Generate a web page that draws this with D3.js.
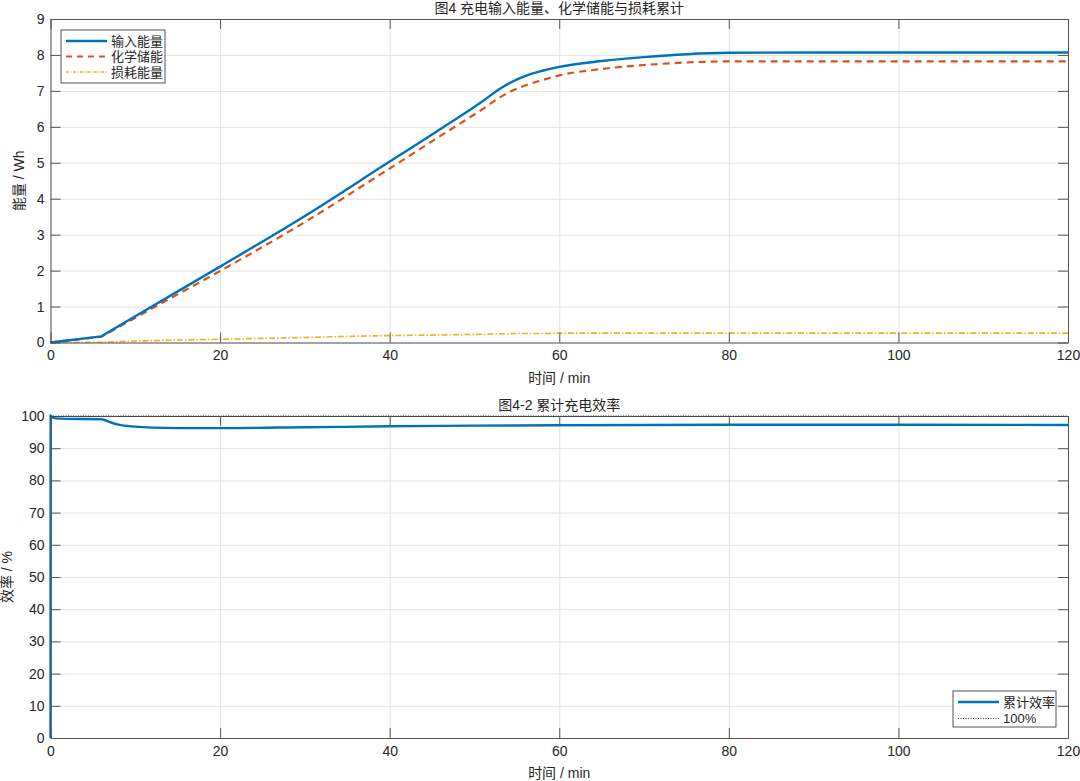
<!DOCTYPE html>
<html>
<head>
<meta charset="utf-8">
<script src="https://cdn.jsdelivr.net/npm/d3@7"></script>
<style>
  body { margin: 0; background: #fff; }
  svg text { font-family: "Liberation Sans", "Noto Sans CJK SC", sans-serif; fill: #262626; }
</style>
</head>
<body>
<svg id="vis" width="1080" height="781"></svg>
<script>
// energy panel (minutes / Wh)
const tEnergy = [0, 6, 10, 20, 30, 39, 46, 51, 53, 55.5, 58, 60, 65, 70, 75, 80, 90, 100, 110, 120];
const inputEnergy = [0, 0.17, 0.73, 2.11, 3.52, 4.88, 5.94, 6.72, 7.06, 7.37, 7.56, 7.67, 7.83, 7.94, 8.02, 8.06, 8.07, 8.07, 8.07, 8.07];
const chemEnergy = [0, 0.16, 0.69, 1.99, 3.35, 4.69, 5.75, 6.50, 6.82, 7.11, 7.30, 7.43, 7.61, 7.72, 7.79, 7.82, 7.82, 7.82, 7.82, 7.82];
const lossEnergy = [0, 0.01, 0.04, 0.09, 0.14, 0.19, 0.21, 0.23, 0.24, 0.25, 0.25, 0.26, 0.26, 0.26, 0.26, 0.26, 0.26, 0.26, 0.26, 0.26];

// efficiency panel (minutes / %)
const tEff = [0, 0.02, 0.6, 2, 6, 7, 8, 10, 12, 15, 20, 30, 40, 50, 60, 80, 100, 120];
const effValues = [0, 100, 99.25, 99.1, 99.0, 98.1, 97.3, 96.7, 96.4, 96.25, 96.25, 96.5, 96.8, 97.0, 97.15, 97.3, 97.3, 97.2];

const energyTicks = [0, 1, 2, 3, 4, 5, 6, 7, 8, 9];
const effTicks = [0, 10, 20, 30, 40, 50, 60, 70, 80, 90, 100];
const timeTicks = [0, 20, 40, 60, 80, 100, 120];

const colors = { blue: "#0072BD", orange: "#D95319", yellow: "#EDB120", axis: "#262626", grid: "#e3e3e3" };

const left = 50.5, right = 1068;

translate = function(a, b) {
  return "translate(" + a + ", " + b + ")";
}

const svg = d3.select("#vis");

drawPanel = function(cfg) {
  const w = right - left;
  const h = cfg.bottom - cfg.top;
  const x = d3.scaleLinear().domain([0, 120]).range([0, w]);
  const y = d3.scaleLinear().domain(cfg.yDomain).range([h, 0]);

  let g = svg.append("g").attr("transform", translate(left, cfg.top));

  // grid
  g.append("g")
    .attr("transform", translate(0, h))
    .call(d3.axisBottom(x).tickValues(timeTicks).tickSize(-h).tickFormat(""))
    .call(s => s.select(".domain").remove())
    .selectAll("line").attr("stroke", colors.grid);
  g.append("g")
    .call(d3.axisLeft(y).tickValues(cfg.yTicks).tickSize(-w).tickFormat(""))
    .call(s => s.select(".domain").remove())
    .selectAll("line").attr("stroke", colors.grid);

  // straight up to the kink point, smooth after it
  const lineOf = function(xs, ys, kink) {
    const pts = ys.map((d, i) => [x(xs[i]), y(d)]);
    const head = d3.line()(pts.slice(0, kink + 1));
    const tail = d3.line().curve(d3.curveMonotoneX)(pts.slice(kink));
    return head + "L" + tail.slice(1);
  };
  cfg.series.forEach(function(s) {
    g.append("path")
      .attr("d", lineOf(s.t, s.v, s.kink))
      .attr("fill", "none")
      .attr("stroke", s.color)
      .attr("stroke-width", s.width)
      .attr("stroke-dasharray", s.dash || null);
  });

  // axes (box with inside ticks)
  const styleAxis = function(s) {
    s.select(".domain").attr("stroke", "#555").attr("stroke-width", 1);
    s.selectAll(".tick line").attr("stroke", "#555");
    s.selectAll("text").attr("font-size", 14).attr("fill", colors.axis)
      .style("font-family", '"Liberation Sans", sans-serif');
  };
  g.append("g").attr("transform", translate(0, h))
    .call(d3.axisBottom(x).tickValues(timeTicks).tickSize(-10).tickSizeOuter(0).tickPadding(8))
    .call(styleAxis);
  g.append("g")
    .call(d3.axisTop(x).tickValues(timeTicks).tickSize(-10).tickSizeOuter(0).tickFormat(""))
    .call(styleAxis);
  g.append("g")
    .call(d3.axisLeft(y).tickValues(cfg.yTicks).tickSize(-10).tickSizeOuter(0).tickPadding(6))
    .call(styleAxis);
  g.append("g").attr("transform", translate(w, 0))
    .call(d3.axisRight(y).tickValues(cfg.yTicks).tickSize(-10).tickSizeOuter(0).tickFormat(""))
    .call(styleAxis);

  // reference line drawn on top
  if (cfg.refLine) {
    g.append("line")
      .attr("x1", 0).attr("x2", w)
      .attr("y1", y(cfg.refLine)).attr("y2", y(cfg.refLine))
      .attr("stroke", "#000").attr("stroke-width", 0.8).attr("stroke-dasharray", "1,1.5");
  }

  // titles
  g.append("text").attr("x", w / 2).attr("y", -6)
    .attr("text-anchor", "middle").attr("font-size", 14).text(cfg.title);
  g.append("text").attr("x", w / 2).attr("y", h + 40)
    .attr("text-anchor", "middle").attr("font-size", 14).text("时间 / min");
  g.append("text")
    .attr("transform", translate(cfg.ylabelX - left, h / 2) + " rotate(-90)")
    .attr("text-anchor", "middle").attr("font-size", 14).text(cfg.ylabel);

  // legend
  const lg = g.append("g").attr("transform", translate(cfg.legend.x - left, cfg.legend.y - cfg.top));
  lg.append("rect")
    .attr("width", cfg.legend.w).attr("height", cfg.legend.h)
    .attr("fill", "#fff").attr("stroke", "#555").attr("stroke-width", 1);
  cfg.legend.items.forEach(function(it, i) {
    const yy = 11 + i * cfg.legend.step;
    lg.append("line")
      .attr("x1", 5).attr("x2", 46).attr("y1", yy).attr("y2", yy)
      .attr("stroke", it.color).attr("stroke-width", it.width)
      .attr("stroke-dasharray", it.dash || null);
    lg.append("text").attr("x", 50).attr("y", yy + 4.5)
      .attr("font-size", 13).text(it.label);
  });
};

drawPanel({
  top: 19, bottom: 342.5,
  yDomain: [0, 9], yTicks: energyTicks,
  title: "图4 充电输入能量、化学储能与损耗累计",
  ylabel: "能量 / Wh", ylabelX: 24,
  series: [
    { t: tEnergy, v: lossEnergy, kink: 1, color: colors.yellow, width: 1.6, dash: "6,2,1.5,2" },
    { t: tEnergy, v: chemEnergy, kink: 1, color: colors.orange, width: 2.2, dash: "7,5" },
    { t: tEnergy, v: inputEnergy, kink: 1, color: colors.blue, width: 2.4 }
  ],
  legend: {
    x: 61, y: 30, w: 104, h: 53, step: 15.5,
    items: [
      { label: "输入能量", color: colors.blue, width: 2.4 },
      { label: "化学储能", color: colors.orange, width: 2.2, dash: "6,5" },
      { label: "损耗能量", color: colors.yellow, width: 1.6, dash: "3,1.5,1,1.5" }
    ]
  }
});

drawPanel({
  top: 416, bottom: 738,
  yDomain: [0, 100], yTicks: effTicks,
  title: "图4-2 累计充电效率",
  ylabel: "效率 / %", ylabelX: 12,
  series: [
    { t: tEff, v: effValues, kink: 1, color: colors.blue, width: 2.4 }
  ],
  refLine: 100,
  legend: {
    x: 953, y: 691, w: 103, h: 36, step: 16.5,
    items: [
      { label: "累计效率", color: colors.blue, width: 2.4 },
      { label: "100%", color: "#000", width: 0.8, dash: "1,1.5" }
    ]
  }
});
</script>
</body>
</html>
